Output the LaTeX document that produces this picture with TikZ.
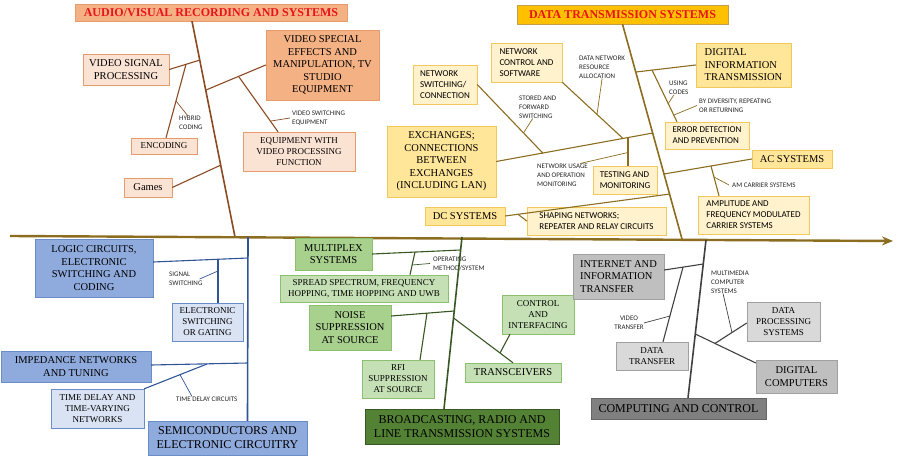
\documentclass[tikz,border=0pt]{standalone}
\usepackage{xcolor}
\usepackage{fontspec}
\setmainfont{Liberation Serif}
\setsansfont{Carlito}
\usepackage{tikz}
\usetikzlibrary{arrows.meta}
\definecolor{title_red}{HTML}{E8141B}
\definecolor{av_title}{HTML}{F4B183}
\definecolor{av_light}{HTML}{FBE3D4}
\definecolor{av_border}{HTML}{E59B6E}
\definecolor{av_line}{HTML}{8B4A22}
\definecolor{dt_title}{HTML}{FFC000}
\definecolor{dt_box}{HTML}{FFE699}
\definecolor{dt_light}{HTML}{FFF2CC}
\definecolor{dt_border}{HTML}{F2C75C}
\definecolor{dt_line}{HTML}{8C6D1F}
\definecolor{bl_box}{HTML}{8FAADC}
\definecolor{bl_light}{HTML}{DAE3F3}
\definecolor{bl_border}{HTML}{6A8CC7}
\definecolor{bl_line}{HTML}{2F5597}
\definecolor{gr_box}{HTML}{A9D18E}
\definecolor{gr_light}{HTML}{C5E0B4}
\definecolor{gr_dark}{HTML}{548235}
\definecolor{gr_border}{HTML}{8CBF6E}
\definecolor{gr_line}{HTML}{385723}
\definecolor{gy_box}{HTML}{BFBFBF}
\definecolor{gy_light}{HTML}{D9D9D9}
\definecolor{gy_dark}{HTML}{808080}
\definecolor{gy_border}{HTML}{A0A0A0}
\definecolor{gy_line}{HTML}{404040}

\begin{document}
\begin{tikzpicture}[x=1pt, y=-1pt,
    box/.style={draw, rectangle, inner sep=1pt, align=center, font=\fontsize{10.5}{12.5}\selectfont},
    smallbox/.style={box, font=\fontsize{9}{11}\selectfont},
    sansbox/.style={box, align=left, font=\sffamily\fontsize{9}{11}\selectfont},
    groupbox/.style={box, font=\fontsize{12}{14}\selectfont},
    titlebox/.style={box, text=title_red, font=\bfseries\fontsize{12}{14}\selectfont},
    note/.style={inner sep=0pt, anchor=west, align=left, text=black!85, font=\sffamily\fontsize{7}{9}\selectfont},
    spine/.style={line width=1.6pt},
    branch/.style={line width=1.1pt},
    tick/.style={line width=0.7pt}]

      \useasboundingbox (0,0) rectangle (900,460);

      % Audio/visual group
      \node[titlebox, fill=av_title, draw=av_border, minimum width=272, minimum height=17] (avtitle) at (211,12.5) {AUDIO/VISUAL RECORDING AND SYSTEMS};
      \node[box, fill=av_light, draw=av_border, minimum width=86, minimum height=31] (vsp) at (126,69.5) {VIDEO SIGNAL\\PROCESSING};
      \node[smallbox, fill=av_light, draw=av_border, minimum width=66, minimum height=16] (enc) at (164,146) {ENCODING};
      \node[box, fill=av_light, draw=av_border, minimum width=48, minimum height=19] (games) at (148,187.5) {Games};
      \node[box, fill=av_title, draw=av_border, minimum width=113, minimum height=70] (vse) at (322.5,65) {VIDEO SPECIAL\\EFFECTS AND\\MANIPULATION, TV\\STUDIO\\EQUIPMENT};
      \node[smallbox, fill=av_light, draw=av_border, minimum width=112, minimum height=39] (ewv) at (299,151.5) {EQUIPMENT WITH\\VIDEO PROCESSING\\FUNCTION};
      \node[note] (hyb) at (179,123) {HYBRID\\CODING};
      \node[note] (vsw) at (292,118) {VIDEO SWITCHING\\EQUIPMENT};

      \coordinate (av_end) at (235,237);
      \coordinate (av_j1) at (200,60);
      \coordinate (av_j2) at (186,64.3);
      \coordinate (av_j3) at (206,90);
      \coordinate (av_j4) at (239,77);
      \coordinate (av_j5) at (221,165);
      \coordinate (av_t1) at (176,101);
      \coordinate (av_t2) at (271,121);

      \draw[spine, av_line] ([xshift=-19]avtitle.south) -- (av_end);
      \draw[branch, av_line] (vsp.east) -- (av_j1);
      \draw[branch, av_line] ([xshift=2]enc.north) -- (av_j2);
      \draw[branch, av_line] (vse.west) -- (av_j3);
      \draw[branch, av_line] ([xshift=-21]ewv.north) -- (av_j4);
      \draw[branch, av_line] (games.east) -- (av_j5);
      \draw[tick, av_line] (av_t1) -- ([xshift=9]hyb.north west);
      \draw[tick, av_line] (av_t2) -- ([xshift=-2]vsw.west);

      % Data transmission group
      \node[titlebox, fill=dt_title, draw=dt_border!80!black, minimum width=211, minimum height=19] (dttitle) at (622.5,14.5) {DATA TRANSMISSION SYSTEMS};
      \node[sansbox, fill=dt_light, draw=dt_border, minimum width=71, minimum height=39] (ncs) at (526.5,62.5) {NETWORK\\CONTROL AND\\SOFTWARE};
      \node[sansbox, fill=dt_light, draw=dt_border, minimum width=64, minimum height=39] (nsc) at (445,84.5) {NETWORK\\SWITCHING/\\CONNECTION};
      \node[box, fill=dt_box, draw=dt_border, minimum width=109, minimum height=71] (exch) at (441.5,161.5) {EXCHANGES;\\CONNECTIONS\\BETWEEN\\EXCHANGES\\(INCLUDING LAN)};
      \node[sansbox, fill=dt_light, draw=dt_border, minimum width=64, minimum height=28] (tam) at (625,180) {TESTING AND\\MONITORING};
      \node[box, fill=dt_box, draw=dt_border, minimum width=80, minimum height=18] (dcs) at (465,216) {DC SYSTEMS};
      \node[sansbox, fill=dt_light, draw=dt_border, minimum width=139, minimum height=28] (shp) at (596.5,221) {SHAPING NETWORKS;\\REPEATER AND RELAY CIRCUITS};
      \node[box, align=left, fill=dt_box, draw=dt_border, minimum width=95, minimum height=44] (dit) at (743.5,65) {DIGITAL\\INFORMATION\\TRANSMISSION};
      \node[sansbox, fill=dt_light, draw=dt_border, minimum width=84, minimum height=27] (edp) at (707,135.5) {ERROR DETECTION\\AND PREVENTION};
      \node[box, fill=dt_box, draw=dt_border, minimum width=80, minimum height=18] (acs) at (792,159) {AC SYSTEMS};
      \node[sansbox, fill=dt_light, draw=dt_border, minimum width=111, minimum height=38] (afm) at (753.5,215) {AMPLITUDE AND\\FREQUENCY MODULATED\\CARRIER SYSTEMS};
      \node[note] (dnra) at (579,67) {DATA NETWORK\\RESOURCE\\ALLOCATION};
      \node[note] (saf) at (519,107) {STORED AND\\FORWARD\\SWITCHING};
      \node[note] (nuom) at (537,175) {NETWORK USAGE\\AND OPERATION\\MONITORING};
      \node[note] (codes) at (669,88) {USING\\CODES};
      \node[note] (div) at (699,105.5) {BY DIVERSITY, REPEATING\\OR RETURNING};
      \node[note] (amc) at (732,185) {AM CARRIER SYSTEMS};

      \coordinate (dt_end) at (682,239);
      \coordinate (dt_j1) at (636,72);
      \coordinate (dt_j2) at (652,70);
      \coordinate (dt_j3) at (653,133);
      \coordinate (dt_j4) at (543,153.3);
      \coordinate (dt_j5) at (623,138.5);
      \coordinate (dt_j6) at (628,137.6);
      \coordinate (dt_j7) at (628,152.5);
      \coordinate (dt_j8) at (664,174);
      \coordinate (dt_j9) at (711,166);
      \coordinate (dt_j10) at (670,194);
      \coordinate (dt_j11) at (518,214.3);
      \coordinate (dt_t1) at (668,104);
      \coordinate (dt_t2) at (674,115);
      \coordinate (dt_t3) at (523.5,133);
      \coordinate (dt_t4) at (597,114.4);
      \coordinate (dt_t5) at (714,177);

      \draw[spine, dt_line] (dttitle.south) -- (dt_end);
      \draw[branch, dt_line] (dit.west) -- (dt_j1);
      \draw[branch, dt_line] (dt_j2) -- ([xshift=-30]edp.north);
      \draw[branch, dt_line] (exch.east) -- (dt_j3);
      \draw[branch, dt_line] (nsc.east) -- (dt_j4);
      \draw[branch, dt_line] (ncs.south east) -- (dt_j5);
      \draw[branch, dt_line] ([xshift=3]tam.north) -- (dt_j6);
      \draw[branch, dt_line] (dt_j8) -- (acs.west);
      \draw[branch, dt_line] ([xshift=-34.5]afm.north) -- (dt_j9);
      \draw[branch, dt_line] (dcs.east) -- (dt_j10);
      \draw[branch, dt_line] (dt_j11) -- (shp.west);
      \draw[tick, dt_line] (dt_t1) -- ([xshift=-5]codes.south);
      \draw[tick, dt_line] (dt_t2) -- ([xshift=-2]div.west);
      \draw[tick, dt_line] (dt_t3) -- ([xshift=-5]saf.south);
      \draw[tick, dt_line] (dt_t4) -- (dnra.south);
      \draw[tick, dt_line] (dt_j7) -- ([xshift=-8]nuom.north east);
      \draw[tick, dt_line] (dt_t5) -- ([xshift=-3]amc.west);

      % Draw axis
      \coordinate (ax_start) at (10,236);
      \coordinate (ax_end) at (893,241);
      \draw[dt_line, line width=2.4pt, -{Stealth[length=11pt, width=9pt]}] (ax_start) -- (ax_end);

      % Semiconductors group
      \node[box, fill=bl_box, draw=bl_border, minimum width=118, minimum height=58] (lc) at (94,268) {LOGIC CIRCUITS,\\ELECTRONIC\\SWITCHING AND\\CODING};
      \node[smallbox, fill=bl_light, draw=bl_border, minimum width=71, minimum height=38] (esg) at (207.5,322) {ELECTRONIC\\SWITCHING\\OR GATING};
      \node[box, fill=bl_box, draw=bl_border, minimum width=150, minimum height=31] (imp) at (76,366.5) {IMPEDANCE NETWORKS\\AND TUNING};
      \node[smallbox, fill=bl_light, draw=bl_border, minimum width=93, minimum height=39] (tdn) at (97.5,408.5) {TIME DELAY AND\\TIME-VARYING\\NETWORKS};
      \node[groupbox, fill=bl_box, draw=bl_border, minimum width=159, minimum height=34] (semi) at (227.5,438) {SEMICONDUCTORS AND\\ELECTRONIC CIRCUITRY};
      \node[note] (sig) at (169,279) {SIGNAL\\SWITCHING};
      \node[note] (tdc) at (176,399) {TIME DELAY CIRCUITS};

      \coordinate (bl_top) at (248,237);
      \coordinate (bl_j1) at (248,258);
      \coordinate (bl_j2) at (218,259.3);
      \coordinate (bl_j3) at (247.6,363);
      \coordinate (bl_j4) at (207,364);
      \coordinate (bl_t1) at (218,271);
      \coordinate (bl_t2) at (180,374.7);

      \draw[spine, bl_line] (bl_top) -- ([xshift=20]semi.north);
      \draw[branch, bl_line] ([yshift=6]lc.east) -- (bl_j1);
      \draw[branch, bl_line] ([xshift=10.5]esg.north) -- (bl_j2);
      \draw[branch, bl_line] ([yshift=1.5]imp.east) -- (bl_j3);
      \draw[branch, bl_line] (tdn.north east) -- (bl_j4);
      \draw[tick, bl_line] (bl_t1) -- ([xshift=-3]sig.east);
      \draw[tick, bl_line] (bl_t2) -- ([xshift=16]tdc.north west);

      % Broadcasting group
      \node[box, fill=gr_box, draw=gr_border, minimum width=77, minimum height=32] (mux) at (333.5,254) {MULTIPLEX\\SYSTEMS};
      \node[smallbox, fill=gr_light, draw=gr_border, minimum width=168, minimum height=27] (ssp) at (364,288.5) {SPREAD SPECTRUM, FREQUENCY\\HOPPING, TIME HOPPING AND UWB};
      \node[box, fill=gr_box, draw=gr_border, minimum width=82, minimum height=45] (nsa) at (350,327.5) {NOISE\\SUPPRESSION\\AT SOURCE};
      \node[smallbox, fill=gr_light, draw=gr_border, minimum width=72, minimum height=38] (rfi) at (398,379) {RFI\\SUPPRESSION\\AT SOURCE};
      \node[smallbox, fill=gr_light, draw=gr_border, minimum width=72, minimum height=39] (cai) at (538,314.5) {CONTROL\\AND\\INTERFACING};
      \node[box, fill=gr_light, draw=gr_border, minimum width=96, minimum height=19] (trx) at (513,372.5) {TRANSCEIVERS};
      \node[groupbox, fill=gr_dark, draw=gr_line, minimum width=194, minimum height=35] (brd) at (462,426.5) {BROADCASTING, RADIO AND\\LINE TRANSMISSION SYSTEMS};
      \node[note] (om) at (433,263.5) {OPERATING\\METHOD/SYSTEM};

      \coordinate (gr_top) at (462,237);
      \coordinate (gr_j1) at (460.6,250);
      \coordinate (gr_j2) at (415,252);
      \coordinate (gr_j3) at (454.3,311);
      \coordinate (gr_j4) at (427,313.1);
      \coordinate (gr_j5) at (453.6,318);
      \coordinate (gr_j6) at (500,353);
      \coordinate (gr_t1) at (412,265);

      \draw[spine, gr_line] (gr_top) -- ([xshift=-18]brd.north);
      \draw[branch, gr_line] (mux.east) -- (gr_j1);
      \draw[branch, gr_line] ([xshift=46]ssp.north) -- (gr_j2);
      \draw[branch, gr_line] ([yshift=11.5]nsa.east) -- (gr_j3);
      \draw[branch, gr_line] ([xshift=22]rfi.north) -- (gr_j4);
      \draw[branch, gr_line] (gr_j5) -- (trx.north);
      \draw[branch, gr_line] ([xshift=-28]cai.south) -- (gr_j6);
      \draw[tick, gr_line] (gr_t1) -- ([xshift=-3]om.west);

      % Computing group
      \node[box, align=left, fill=gy_box, draw=gy_border, minimum width=91, minimum height=45] (iit) at (618.5,276.5) {INTERNET AND\\INFORMATION\\TRANSFER};
      \node[smallbox, fill=gy_light, draw=gy_border, minimum width=72, minimum height=28] (dtr) at (652,356) {DATA\\TRANSFER};
      \node[smallbox, fill=gy_light, draw=gy_border, minimum width=73, minimum height=39] (dps) at (783.5,321.5) {DATA\\PROCESSING\\SYSTEMS};
      \node[box, fill=gy_box, draw=gy_border, minimum width=81, minimum height=33] (dcp) at (796.5,376.5) {DIGITAL\\COMPUTERS};
      \node[groupbox, fill=gy_dark, draw=gy_line!80, minimum width=175, minimum height=21] (cac) at (678.5,408.5) {COMPUTING AND CONTROL};
      \node[note, anchor=center, align=center] (vt) at (629,323) {VIDEO\\TRANSFER};
      \node[note] (mcs) at (711,282) {MULTIMEDIA\\COMPUTER\\SYSTEMS};

      \coordinate (gy_top) at (706,240);
      \coordinate (gy_j1) at (703.3,264);
      \coordinate (gy_j2) at (683,267.1);
      \coordinate (gy_j3) at (695.3,334);
      \coordinate (gy_j4) at (715,343.4);
      \coordinate (gy_t1) at (670,316);
      \coordinate (gy_t2) at (732,332.6);

      \draw[spine, gy_line] (gy_top) -- ([xshift=9.5]cac.north);
      \draw[branch, gy_line] ([yshift=6.5]iit.east) -- (gy_j1);
      \draw[branch, gy_line] ([xshift=11]dtr.north) -- (gy_j2);
      \draw[branch, gy_line] (gy_j3) -- ([yshift=13.5]dcp.west);
      \draw[branch, gy_line] ([yshift=-1.5]dps.west) -- (gy_j4);
      \draw[tick, gy_line] (gy_t1) -- (vt.east);
      \draw[tick, gy_line] (gy_t2) -- ([xshift=-7]mcs.south);

\end{tikzpicture}
\end{document}
